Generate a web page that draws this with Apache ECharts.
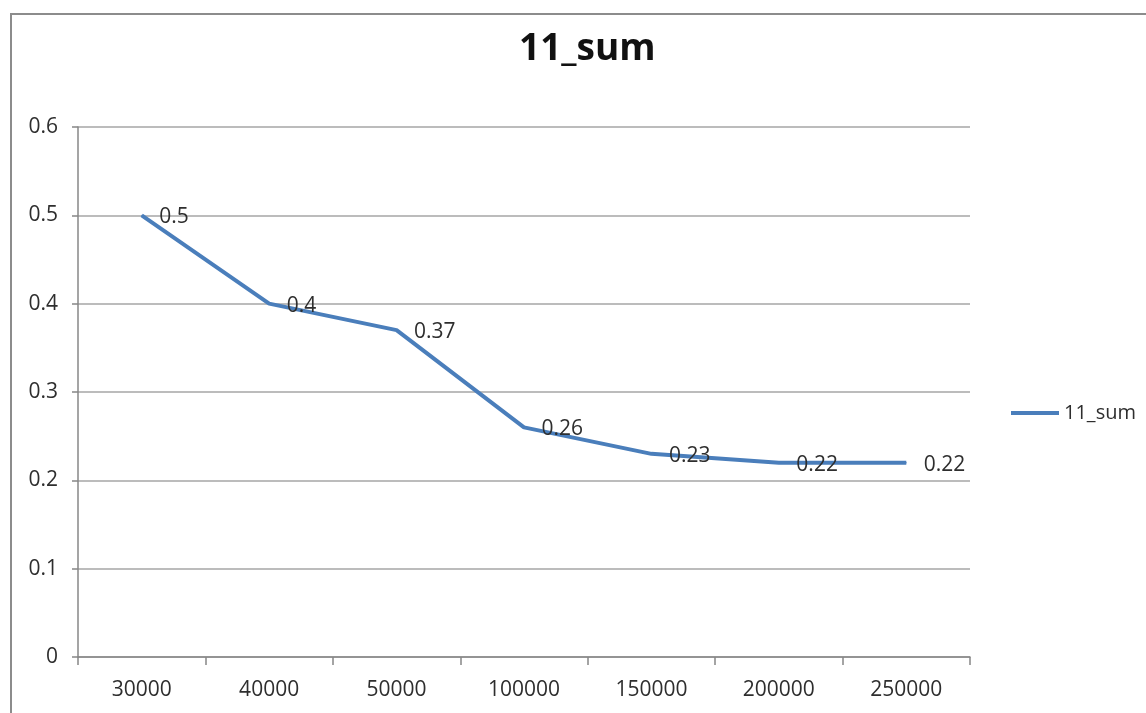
<!DOCTYPE html>
<html>
<head>
<meta charset="utf-8">
<script src="https://cdn.jsdelivr.net/npm/echarts@6/dist/echarts.min.js"></script>
<style>
  html, body { margin: 0; padding: 0; background: #ffffff; }
  #chart { width: 1146px; height: 713px; }
</style>
</head>
<body>
<div id="chart"></div>
<script>
// Sample sizes along the x axis
const categories = ['30000', '40000', '50000', '100000', '150000', '200000', '250000'];
// 11_sum values for each sample size
const sumValues = [0.5, 0.4, 0.37, 0.26, 0.23, 0.22, 0.22];
const seriesName = '11_sum';

const FONT = '"Open Sans", "Liberation Sans", sans-serif';
const TEXT = '#2e2e2e';
const AXIS = '#878787';
const LINE = '#4A7EBB';

const chart = echarts.init(document.getElementById('chart'), null, { renderer: 'canvas' });

chart.setOption({
  backgroundColor: '#ffffff',
  animation: false,
  title: {
    text: seriesName,
    left: 514,
    top: 26,
    textStyle: { fontFamily: FONT, fontSize: 37, fontWeight: 'bold', color: '#111111' }
  },
  graphic: [{
    type: 'rect',
    shape: { x: 11, y: 14, width: 1300, height: 900 },
    style: { fill: 'none', stroke: '#8c8c8c', lineWidth: 2 },
    silent: true
  }],
  legend: {
    left: 1006,
    top: 398,
    itemWidth: 48,
    itemHeight: 4,
    itemGap: 4,
    data: [{ name: seriesName, icon: 'rect', itemStyle: { color: LINE } }],
    textStyle: { fontFamily: FONT, fontSize: 20, color: TEXT }
  },
  grid: { left: 78, right: 176, top: 127, bottom: 56 },
  xAxis: {
    type: 'category',
    data: categories,
    boundaryGap: true,
    axisLine: { lineStyle: { color: AXIS, width: 1.5 } },
    axisTick: { show: true, length: 8, lineStyle: { color: AXIS, width: 1.5 } },
    axisLabel: { fontFamily: FONT, fontSize: 21, color: TEXT, margin: 23 },
    splitLine: { show: false }
  },
  yAxis: {
    type: 'value',
    min: 0,
    max: 0.6,
    interval: 0.1,
    axisLine: { show: true, lineStyle: { color: AXIS, width: 1.5 } },
    axisTick: { show: true, length: 6, lineStyle: { color: AXIS, width: 1.5 } },
    axisLabel: { fontFamily: FONT, fontSize: 21, color: TEXT, margin: 20 },
    splitLine: { show: true, lineStyle: { color: '#a6a6a6', width: 1.5 } }
  },
  series: [{
    name: seriesName,
    type: 'line',
    data: sumValues,
    symbol: 'circle',
    symbolSize: 1,
    itemStyle: { color: LINE },
    lineStyle: { color: LINE, width: 4 },
    label: {
      show: true,
      position: 'right',
      distance: 17,
      offset: [0, 2],
      fontFamily: FONT,
      fontSize: 21,
      color: TEXT
    }
  }]
});
</script>
</body>
</html>
